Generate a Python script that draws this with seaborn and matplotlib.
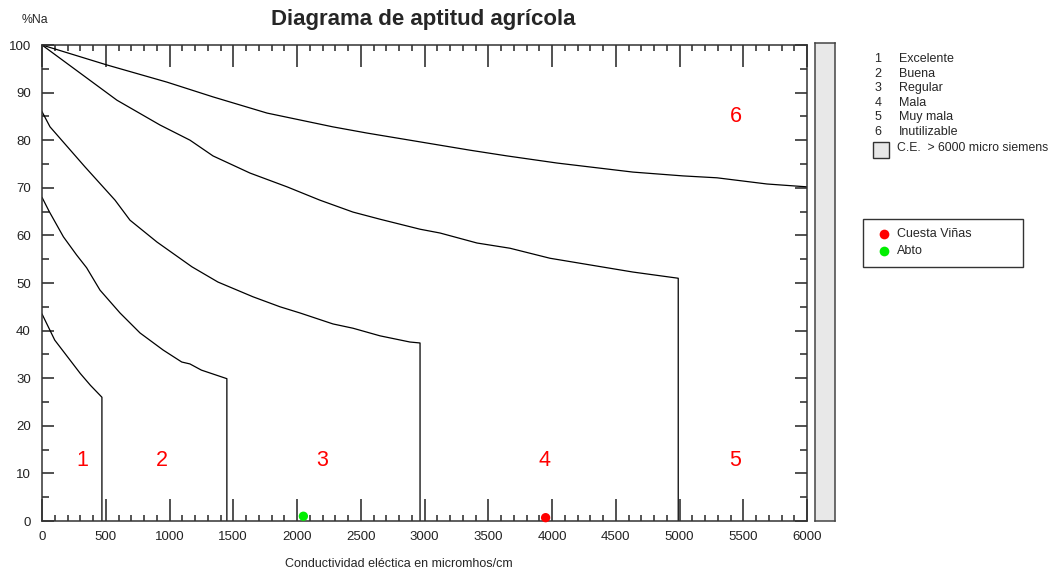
import numpy as np
import pandas as pd
import seaborn as sns
import matplotlib.pyplot as plt
from matplotlib.ticker import MultipleLocator
from matplotlib.patches import Rectangle
from matplotlib.lines import Line2D

# boundary curves (CE, %Na)
c1_ce = [0, 100, 200, 300, 380, 470, 470]
c1_na = [43.5, 38, 34.5, 31, 28.5, 26, 0]

c2_ce = [0, 57, 168, 271, 350, 455, 612, 769, 951, 1096, 1160, 1250, 1450, 1450]
c2_na = [68, 65, 59.7, 55.9, 53.2, 48.5, 43.7, 39.5, 35.9, 33.4, 33, 31.7, 29.9, 0]

c3_ce = [0, 63, 337, 573, 690, 902, 1176, 1380, 1655, 1867, 2024, 2282, 2439, 2651, 2886, 2965, 2965]
c3_na = [86, 82.8, 74.4, 67.4, 63.2, 58.6, 53.4, 50.2, 47.1, 45, 43.7, 41.4, 40.5, 38.9, 37.6, 37.4, 0]

c4_ce = [0, 588, 925, 1161, 1341, 1631, 1922, 2180, 2439, 2651, 2965, 3122, 3412, 3671, 3984, 4298, 4635, 4990, 4990]
c4_na = [100, 88.4, 83.2, 80, 76.7, 73.1, 70.2, 67.4, 64.9, 63.4, 61.3, 60.5, 58.4, 57.3, 55.2, 53.8, 52.3, 51, 0]

c5_ce = [0, 510, 980, 1341, 1765, 2282, 2549, 2886, 3357, 3647, 4040, 4635, 5027, 5294, 5686, 6000]
c5_na = [100, 95.8, 92.2, 89.1, 85.7, 82.8, 81.5, 80, 77.9, 76.7, 75.2, 73.3, 72.5, 72.1, 70.8, 70.2]

# samples
muestras = ['Cuesta Viñas', 'Abto']
muestra_ce = [3950, 2050]
muestra_na = [0.7, 1.0]
muestra_color = ['#ff0000', '#00ee00']

# region labels
zona_txt = ['1', '2', '3', '4', '5', '6']
zona_ce = [320, 940, 2200, 3945, 5440, 5440]
zona_na = [12.8, 12.8, 12.8, 12.8, 12.8, 84.9]

clases = ['Excelente', 'Buena', 'Regular', 'Mala', 'Muy mala', 'Inutilizable']

sns.set_style('white')
plt.rcParams['font.family'] = ['Liberation Sans', 'DejaVu Sans']

fig = plt.figure(figsize=(10.53, 5.77), dpi=100)
W, H = 1053, 577
ax = fig.add_axes([42 / W, 1 - 521 / H, (807 - 42) / W, (521 - 45) / H])

curvas = [(c1_ce, c1_na), (c2_ce, c2_na), (c3_ce, c3_na), (c4_ce, c4_na), (c5_ce, c5_na)]
for cx, cy in curvas:
    d = pd.DataFrame({'ce': cx, 'na': cy})
    sns.lineplot(data=d, x='ce', y='na', sort=False, estimator=None, errorbar=None,
                 color='black', lw=0.9, ax=ax)

df_m = pd.DataFrame({'ce': muestra_ce, 'na': muestra_na, 'muestra': muestras})
sns.scatterplot(data=df_m, x='ce', y='na', hue='muestra', palette=muestra_color,
                s=45, edgecolor='none', legend=False, ax=ax, clip_on=False, zorder=5)

for t, x, y in zip(zona_txt, zona_ce, zona_na):
    ax.text(x, y, t, color='#ff0000', fontsize=15.5, ha='center', va='center')

ax.set_xlim(0, 6000)
ax.set_ylim(0, 100)
ax.xaxis.set_major_locator(MultipleLocator(500))
ax.xaxis.set_minor_locator(MultipleLocator(100))
ax.yaxis.set_major_locator(MultipleLocator(10))
ax.yaxis.set_minor_locator(MultipleLocator(5))
ax.tick_params(axis='x', which='major', direction='in', length=16, width=1.1,
               top=True, bottom=True, labelsize=9.5, pad=7, colors='#222222')
ax.tick_params(axis='x', which='minor', direction='in', length=4.3, width=1.1,
               top=True, bottom=True)
ax.tick_params(axis='y', which='major', direction='in', length=8.5, width=1.1,
               left=True, right=True, labelsize=9.5, pad=8, colors='#222222')
ax.tick_params(axis='y', which='minor', direction='in', length=5, width=1.1,
               left=True, right=True)
for s in ax.spines.values():
    s.set_color('#333333')
    s.set_linewidth(1.1)
ax.set_xlabel('')
ax.set_ylabel('')

fig.text(423 / W, 1 - 20 / H, 'Diagrama de aptitud agrícola', fontsize=16,
         fontweight='bold', ha='center', va='center')
fig.text(35 / W, 1 - 20 / H, '%Na', fontsize=8.8, ha='center', va='center')
fig.text(399 / W, 1 - 564 / H, 'Conductividad eléctica en micromhos/cm', fontsize=9,
         ha='center', va='center')

# grey bar for CE > 6000
bar = fig.add_axes([815 / W, 1 - 521 / H, 20 / W, (521 - 43) / H])
bar.set_facecolor('#e8e8e8')
bar.set_xticks([])
bar.set_yticks([])
for s in bar.spines.values():
    s.set_color('#444444')
    s.set_linewidth(1.1)

# class legend
for i, c in enumerate(clases):
    yy = 1 - (59 + i * 14.6) / H
    fig.text(878 / W, yy, str(i + 1), fontsize=9, ha='center', va='center')
    fig.text(899 / W, yy, c, fontsize=9, ha='left', va='center')
fig.patches.append(Rectangle((873 / W, 1 - 158 / H), 16 / W, 16 / H, transform=fig.transFigure,
                             facecolor='#e8e8e8', edgecolor='#333333', lw=1))
fig.text(897 / W, 1 - 148 / H, 'C.E.  > 6000 micro siemens', fontsize=8.8, ha='left', va='center')

# sample legend
fig.patches.append(Rectangle((863 / W, 1 - 267 / H), 160 / W, 48 / H, transform=fig.transFigure,
                             facecolor='white', edgecolor='#333333', lw=1))
for i, (m, col) in enumerate(zip(muestras, muestra_color)):
    yy = 1 - (234 + i * 17) / H
    fig.lines.append(Line2D([884 / W], [yy], transform=fig.transFigure, marker='o',
                            markersize=7, color=col, markeredgecolor='none'))
    fig.text(897 / W, yy, m, fontsize=9, ha='left', va='center')

fig.savefig('out.png', dpi=100)
